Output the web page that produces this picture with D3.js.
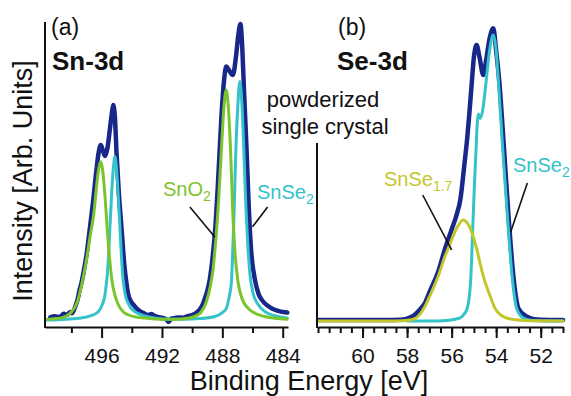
<!DOCTYPE html>
<html>
<head>
<meta charset="utf-8">
<script src="https://cdn.jsdelivr.net/npm/d3@7"></script>
<style>
  body { margin: 0; background: #fff; }
  svg { display: block; font-family: "Liberation Sans", Arial, sans-serif; }
</style>
</head>
<body>
<svg width="571" height="396"></svg>
<script>
// ---- data: [binding energy (eV), intensity (arb.)] ----

// (a) Sn-3d
var snTotal = [
  [499.4,1.2],[499.1,1.6],[498.8,1.3],[498.5,2.4],[498.3,2.0],[498.1,2.9],[497.95,2.6],
  [497.77,4.5],[497.6,7],[497.45,10.5],[497.32,13],[497.15,17.5],[497.0,22],[496.8,30],
  [496.56,40],[496.35,50],[496.2,56],[496.05,58.7],[495.9,56.5],[495.78,55],[495.6,58],
  [495.45,64],[495.3,70],[495.23,72],[495.12,68],[495.0,55],[494.85,42],[494.68,31],
  [494.5,19],[494.35,12.5],[494.24,9],[494.05,6.5],[493.85,5.2],[493.65,4.0],[493.46,3.3],
  [493.2,2.6],[492.95,2.0],[492.7,2.3],[492.45,1.6],[492.2,1.3],[491.95,1.0],[491.7,0.5],
  [491.55,-0.3],[491.4,0.8],[491.15,1.0],[490.9,1.2],[490.6,1.1],[490.3,1.6],[490.0,2.0],
  [489.75,2.6],[489.5,3.8],[489.3,5.5],[489.16,7.5],[489.0,10],[488.83,14],[488.65,21],
  [488.45,32],[488.3,45],[488.17,57.6],[488.0,73],[487.85,82],[487.74,84.8],[487.55,83.5],
  [487.3,82],[487.1,88],[486.95,95],[486.8,99],[486.68,91],[486.56,76.3],[486.4,57.6],
  [486.25,38],[486.1,24],[485.85,14],[485.6,9],[485.3,6.5],[484.97,5],[484.65,4],
  [484.3,3.4],[483.97,3.0],[483.7,2.8]
];
var snO2 = [
  [499.7,0.5],[499.0,0.8],[498.5,1.3],[498.0,3],[497.6,6.5],[497.44,9.5],[497.2,15],
  [497.0,20.5],[496.77,28],[496.51,36],[496.33,45],[496.2,50.5],[496.07,53.1],[495.95,51],
  [495.78,42],[495.63,30.9],[495.45,19.8],[495.3,13],[495.12,8.7],[494.9,5.5],[494.57,3.1],
  [494.2,2.0],[493.7,1.3],[493.0,0.9],[492.0,0.6],[491.0,0.6],[490.3,0.9],[489.8,1.6],
  [489.4,3],[489.05,6.5],[488.8,11.5],[488.62,17],[488.45,26],[488.25,40],[488.03,60],
  [487.9,71],[487.74,77],[487.6,71],[487.46,57.6],[487.3,35.3],[487.15,22],[486.96,13],
  [486.7,7.5],[486.3,4.3],[485.8,2.5],[485.19,1.5],[484.5,0.9],[483.7,0.6]
];
var snSe2 = [
  [499.7,0.3],[498.6,0.5],[497.5,0.9],[496.8,1.6],[496.22,3.1],[495.95,5.5],[495.78,8.7],
  [495.56,19.8],[495.45,30.9],[495.34,42],[495.22,51],[495.12,54.8],[495.0,50],[494.9,42],
  [494.79,31.5],[494.68,21],[494.58,14],[494.46,9.5],[494.2,5.5],[493.8,3.1],[493.2,1.8],
  [492.5,1.0],[491.5,0.6],[490.5,0.6],[489.5,0.8],[488.5,1.5],[488.0,2.8],[487.73,4.3],
  [487.55,8],[487.4,13],[487.32,22],[487.23,35.3],[487.1,57.6],[486.97,72],[486.84,79.8],
  [486.7,72],[486.58,57.6],[486.44,38],[486.32,26],[486.18,16],[485.95,9],[485.63,5.5],
  [485.2,3.2],[484.3,1.5],[483.7,1.0]
];

// (b) Se-3d
var seTotal = [
  [62.0,0.3],[61.0,0.3],[60.0,0.3],[59.0,0.3],[58.3,0.4],[58.0,0.8],[57.7,1.8],[57.4,4],
  [57.2,6],[56.97,10],[56.6,16.5],[56.3,24],[56.0,30.5],[55.78,35.3],[55.6,40.9],[55.43,52],
  [55.3,61],[55.21,68.7],[55.1,79],[55.0,88],[54.88,92],[54.75,88],[54.58,82],[54.45,87],
  [54.3,94],[54.13,97.6],[54.0,90],[53.86,79.8],[53.65,57.6],[53.45,35.3],[53.2,13],
  [53.0,4.2],[52.63,1.5],[52.3,0.6],[52.0,0.4],[51.0,0.3]
];
var seSnSe2 = [
  [58.0,0],[57.0,0],[56.2,0.2],[55.63,1],[55.45,2.2],[55.3,4.2],[55.15,13],[55.03,35.3],
  [54.95,50],[54.9,57.6],[54.85,66],[54.8,69],[54.72,67.5],[54.6,70.5],[54.45,80],[54.3,90],
  [54.13,95.3],[54.0,90],[53.9,79.8],[53.71,57.6],[53.5,35.3],[53.26,13],[53.08,4.2],
  [52.78,1],[52.4,0.2],[51.5,0],[51.0,0]
];
var seSnSe17 = [
  [62.0,0],[59.0,0],[58.2,0.1],[57.8,0.4],[57.5,1.6],[57.2,4.8],[56.97,8.5],[56.6,15],
  [56.3,21.5],[56.08,25.5],[55.8,30.5],[55.48,33.7],[55.2,31.5],[54.88,24.2],[54.7,18.5],
  [54.5,13],[54.28,8.5],[54.05,4.2],[53.8,2.0],[53.53,1.0],[53.0,0.3],[52.5,0.1],[51.0,0]
];

// ticks
var snTicks = [496, 492, 488, 484];
var snMinor = [498, 494, 490, 486];
var seTicks = [60, 58, 56, 54, 52];
var seMinor = d3.range(51, 62.01, 0.5);

// leader lines for labels, [from, to] in data coords
var snO2Leader = [[490.15, 38], [488.5, 28]];
var snSe2Leader = [[485.0, 38], [486.0, 31.4]];
var se17Leader = [[57.3, 42], [56.0, 23.7]];
var seSe2Leader = [[52.6, 46], [53.35, 29.7]];

var colTotal = "#18278a", colSe2 = "#33c3c9", colO2 = "#7cc42c", colSe17 = "#c4c72c";

var svg = d3.select("svg");
var axisY = 327;

var y = d3.scaleLinear().domain([0, 100]).range([321, 21]);
var xa = d3.scaleLinear().domain([499.75, 483.65]).range([45, 288]);
var xb = d3.scaleLinear().domain([62, 51]).range([318, 563]);

function drawCurve(x, data, color, w) {
  svg.append("path").datum(data)
    .attr("fill", "none")
    .attr("stroke", color)
    .attr("stroke-width", w)
    .attr("stroke-linejoin", "round")
    .attr("stroke-linecap", "round")
    .attr("d", d3.line()
      .x(function(d) { return x(d[0]); })
      .y(function(d) { return y(d[1]); })
      .curve(d3.curveMonotoneX));
}

function leader(x, pts) {
  svg.append("line")
    .attr("x1", x(pts[0][0])).attr("y1", y(pts[0][1]))
    .attr("x2", x(pts[1][0])).attr("y2", y(pts[1][1]))
    .attr("stroke", "#111").attr("stroke-width", 1.6);
}

function bottomAxis(x, major, minor) {
  var gm = svg.append("g").attr("transform", "translate(0," + axisY + ")")
    .call(d3.axisBottom(x).tickValues(minor).tickSize(6).tickFormat("").tickSizeOuter(0));
  gm.select(".domain").remove();
  var g = svg.append("g").attr("transform", "translate(0," + axisY + ")")
    .call(d3.axisBottom(x).tickValues(major).tickSize(11).tickPadding(10)
      .tickSizeOuter(0).tickFormat(d3.format("d")));
  svg.selectAll(".tick line").attr("stroke", "#111").attr("stroke-width", 2);
  g.select(".domain").attr("stroke", "#111").attr("stroke-width", 2);
  g.selectAll("text")
    .attr("font-family", "Liberation Sans, Arial, sans-serif")
    .attr("font-size", 21).attr("fill", "#111");
}

// curves
drawCurve(xa, snTotal, colTotal, 4.5);
drawCurve(xa, snSe2, colSe2, 3);
drawCurve(xa, snO2, colO2, 3);

drawCurve(xb, seTotal, colTotal, 4.5);
drawCurve(xb, seSnSe2, colSe2, 3);
drawCurve(xb, seSnSe17, colSe17, 3);

// axes
bottomAxis(xa, snTicks, snMinor);
bottomAxis(xb, seTicks, seMinor);

svg.append("line").attr("x1", 45).attr("x2", 45).attr("y1", 22).attr("y2", axisY + 1)
  .attr("stroke", "#111").attr("stroke-width", 2);
svg.append("line").attr("x1", 317).attr("x2", 317).attr("y1", 143).attr("y2", axisY + 1)
  .attr("stroke", "#111").attr("stroke-width", 2);

// leaders
leader(xa, snO2Leader);
leader(xa, snSe2Leader);
leader(xb, se17Leader);
leader(xb, seSe2Leader);

// text
function label(x, yy, txt, opts) {
  var t = svg.append("text").attr("x", x).attr("y", yy)
    .attr("font-size", opts.size || 20)
    .attr("fill", opts.fill || "#111")
    .attr("font-weight", opts.bold ? "bold" : "normal")
    .attr("text-anchor", opts.anchor || "start")
    .text(txt);
  if (opts.sub) {
    t.append("tspan").attr("dy", 5).attr("font-size", 14).text(opts.sub);
  }
  return t;
}

label(51, 35, "(a)", { size: 23 });
label(52, 70, "Sn-3d", { size: 26, bold: true });
label(338, 35, "(b)", { size: 23 });
label(337, 70, "Se-3d", { size: 26, bold: true });
label(323, 107, "powderized", { size: 22, anchor: "middle" });
label(325, 134, "single crystal", { size: 22, anchor: "middle" });

label(163, 196, "SnO", { fill: colO2, sub: "2" });
label(257, 199, "SnSe", { fill: colSe2, sub: "2" });
label(384, 186, "SnSe", { fill: colSe17, sub: "1.7" });
label(513, 172, "SnSe", { fill: colSe2, sub: "2" });

label(309, 390, "Binding Energy [eV]", { size: 27, anchor: "middle" });
svg.append("text")
  .attr("transform", "translate(32,181) rotate(-90)")
  .attr("text-anchor", "middle")
  .attr("font-size", 27)
  .attr("fill", "#111")
  .text("Intensity [Arb. Units]");
</script>
</body>
</html>
